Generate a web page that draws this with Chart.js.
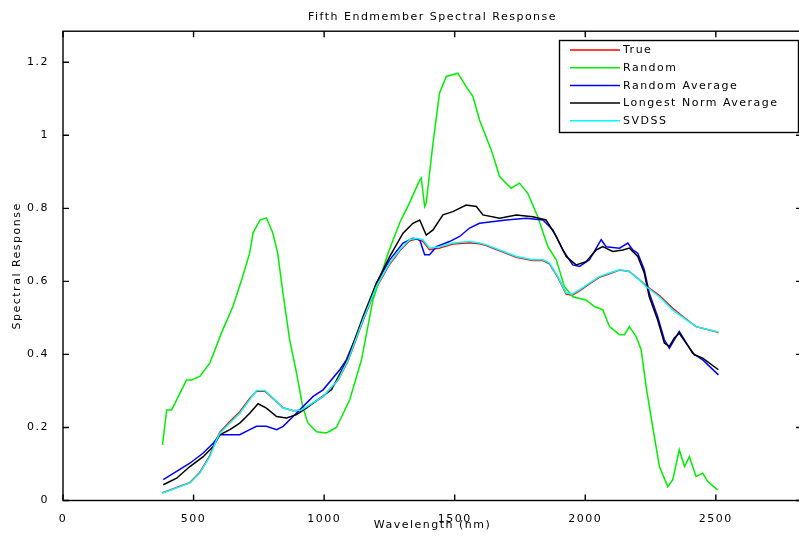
<!DOCTYPE html>
<html>
<head>
<meta charset="UTF-8">
<title>Fifth Endmember Spectral Response</title>
<script src="https://cdn.jsdelivr.net/npm/chart.js"></script>
<style>
  html, body { margin: 0; padding: 0; background: #fff; overflow: hidden; }
  #wrap { width: 799px; height: 536px; overflow: hidden; }
</style>
</head>
<body>
<div id="wrap"><canvas id="spectra" width="808" height="536"></canvas></div>
<script>
// wavelength (nm) / response pairs
const trueWl = [380,448,486,524,562,588,601,639,677,715,741,773,805,843,881,913,945,996,1053,1092,1149,1200,1251,1289,1327,1353,1378,1404,1442,1493,1557,1595,1621,1672,1736,1799,1838,1863,1895,1927,1950,1978,2016,2054,2093,2131,2169,2207,2233,2284,2335,2386,2424,2501,2510];
const trueVal = [0.021,0.039,0.049,0.077,0.123,0.169,0.187,0.216,0.243,0.279,0.299,0.299,0.279,0.254,0.246,0.247,0.261,0.284,0.329,0.383,0.492,0.583,0.647,0.683,0.711,0.716,0.71,0.687,0.691,0.702,0.706,0.703,0.698,0.684,0.666,0.657,0.657,0.648,0.611,0.565,0.562,0.574,0.593,0.611,0.621,0.631,0.627,0.605,0.588,0.561,0.526,0.497,0.476,0.462,0.459];

const randomWl = [381,397,416,473,492,524,562,607,650,684,715,728,754,779,803,822,842,868,894,918,937,971,1009,1047,1098,1143,1187,1245,1289,1327,1366,1372,1385,1391,1417,1442,1468,1512,1544,1570,1595,1640,1672,1716,1748,1780,1818,1857,1889,1920,1952,2003,2035,2067,2093,2131,2150,2169,2195,2214,2233,2258,2284,2316,2335,2360,2380,2399,2424,2450,2469,2507];
const randomVal = [0.152,0.248,0.248,0.33,0.33,0.34,0.376,0.459,0.53,0.604,0.678,0.733,0.768,0.774,0.733,0.678,0.57,0.44,0.35,0.257,0.213,0.188,0.185,0.2,0.276,0.385,0.549,0.677,0.76,0.815,0.877,0.883,0.805,0.815,0.979,1.116,1.161,1.17,1.133,1.106,1.042,0.96,0.887,0.855,0.869,0.841,0.777,0.695,0.659,0.586,0.558,0.549,0.531,0.522,0.476,0.454,0.454,0.476,0.449,0.413,0.312,0.203,0.093,0.038,0.057,0.139,0.093,0.12,0.066,0.075,0.052,0.029];

const randAvgWl = [384,435,486,537,575,601,639,677,715,741,779,818,843,881,919,958,996,1060,1085,1149,1200,1251,1302,1340,1366,1385,1404,1430,1480,1519,1557,1595,1697,1774,1838,1876,1914,1952,1978,2016,2061,2080,2131,2163,2182,2201,2226,2245,2277,2303,2322,2341,2360,2380,2411,2450,2510];
const randAvgVal = [0.057,0.08,0.102,0.13,0.157,0.18,0.18,0.18,0.194,0.203,0.203,0.194,0.203,0.23,0.257,0.285,0.303,0.358,0.385,0.495,0.595,0.659,0.705,0.718,0.714,0.673,0.673,0.695,0.709,0.723,0.746,0.759,0.768,0.773,0.768,0.741,0.686,0.645,0.641,0.659,0.714,0.695,0.691,0.705,0.686,0.677,0.632,0.568,0.504,0.44,0.417,0.44,0.463,0.44,0.403,0.385,0.344];

const longNormWl = [384,435,486,537,575,601,639,677,715,747,779,818,856,894,932,983,1028,1092,1149,1200,1251,1302,1340,1366,1391,1417,1455,1493,1544,1583,1608,1672,1736,1799,1850,1889,1927,1965,2003,2042,2067,2105,2144,2169,2201,2226,2245,2277,2303,2322,2341,2360,2386,2418,2450,2510];
const longNormVal = [0.043,0.061,0.093,0.12,0.148,0.18,0.194,0.212,0.239,0.265,0.253,0.23,0.226,0.235,0.253,0.28,0.303,0.39,0.504,0.595,0.668,0.732,0.759,0.768,0.727,0.741,0.782,0.791,0.809,0.805,0.782,0.773,0.782,0.777,0.768,0.723,0.668,0.645,0.654,0.686,0.695,0.682,0.686,0.691,0.668,0.623,0.558,0.495,0.431,0.422,0.445,0.458,0.431,0.399,0.39,0.358];

const svdssWl = [380,448,486,524,562,588,601,639,677,715,741,773,805,843,881,913,945,996,1053,1092,1149,1200,1251,1289,1327,1353,1378,1404,1442,1493,1557,1595,1621,1672,1736,1799,1838,1863,1895,1927,1950,1978,2016,2054,2093,2131,2169,2207,2233,2284,2335,2386,2424,2501,2510];
const svdssVal = [0.02,0.038,0.048,0.075,0.12,0.166,0.184,0.212,0.239,0.276,0.301,0.301,0.28,0.253,0.246,0.248,0.262,0.285,0.33,0.385,0.495,0.586,0.65,0.686,0.714,0.718,0.714,0.691,0.695,0.705,0.709,0.705,0.7,0.686,0.668,0.659,0.659,0.65,0.613,0.568,0.565,0.577,0.595,0.613,0.623,0.632,0.627,0.604,0.586,0.558,0.522,0.495,0.476,0.463,0.46];

const xTicks = [0, 500, 1000, 1500, 2000, 2500];
const yTicks = [0, 0.2, 0.4, 0.6, 0.8, 1, 1.2];

const FONT = 'DejaVu Sans';
const SPACING = '1.5px';

function pts(wl, val) {
  return wl.map((w, i) => ({ x: w, y: val[i] }));
}

function series(label, color, wl, val, order) {
  return {
    label: label,
    data: pts(wl, val),
    borderColor: color,
    backgroundColor: color,
    borderWidth: 1.5,
    pointRadius: 0,
    tension: 0,
    fill: false,
    order: order
  };
}

// matlab style letter spacing for all canvas text
const spacing = {
  id: 'spacing',
  beforeUpdate(chart) { chart.ctx.letterSpacing = SPACING; },
  beforeDraw(chart) { chart.ctx.letterSpacing = SPACING; }
};

// box around the axes with inward ticks on all four sides
const frameTicks = {
  id: 'frameTicks',
  afterDatasetsDraw(chart) {
    const { ctx, chartArea: a, scales: { x, y } } = chart;
    const len = 6;
    ctx.save();
    ctx.strokeStyle = '#000';
    ctx.lineWidth = 1.4;
    ctx.strokeRect(a.left, a.top, a.right - a.left, a.bottom - a.top);
    ctx.beginPath();
    x.ticks.forEach(t => {
      const px = x.getPixelForValue(t.value);
      ctx.moveTo(px, a.bottom); ctx.lineTo(px, a.bottom - len);
      ctx.moveTo(px, a.top); ctx.lineTo(px, a.top + len);
    });
    y.ticks.forEach(t => {
      const py = y.getPixelForValue(t.value);
      ctx.moveTo(a.left, py); ctx.lineTo(a.left + len, py);
      ctx.moveTo(a.right, py); ctx.lineTo(a.right - len, py);
    });
    ctx.stroke();
    ctx.restore();
  }
};

// legend box in the upper right corner, like matlab's
const boxLegend = {
  id: 'boxLegend',
  afterDraw(chart) {
    const ctx = chart.ctx;
    const sets = chart.data.datasets;
    const left = 559.5, top = 40.5, w = 239, h = 92;
    ctx.save();
    ctx.fillStyle = '#fff';
    ctx.fillRect(left, top, w, h);
    ctx.strokeStyle = '#000';
    ctx.lineWidth = 1.4;
    ctx.strokeRect(left, top, w, h);
    ctx.font = '11px "' + FONT + '"';
    ctx.letterSpacing = SPACING;
    ctx.textBaseline = 'middle';
    ctx.textAlign = 'left';
    sets.forEach((ds, i) => {
      const yy = 50 + i * 17.7;
      ctx.strokeStyle = ds.borderColor;
      ctx.lineWidth = 1.5;
      ctx.beginPath();
      ctx.moveTo(570, yy);
      ctx.lineTo(620, yy);
      ctx.stroke();
      ctx.fillStyle = '#000';
      ctx.fillText(ds.label, 623, yy + 0.5);
    });
    ctx.restore();
  }
};

new Chart(document.getElementById('spectra'), {
  type: 'line',
  data: {
    datasets: [
      series('True', '#ff0000', trueWl, trueVal, 4),
      series('Random', '#00ee00', randomWl, randomVal, 3),
      series('Random Average', '#0000ff', randAvgWl, randAvgVal, 2),
      series('Longest Norm Average', '#000000', longNormWl, longNormVal, 1),
      series('SVDSS', '#00ffff', svdssWl, svdssVal, 0)
    ]
  },
  options: {
    responsive: false,
    animation: false,
    events: [],
    layout: { padding: { left: 0, right: 6, top: 0, bottom: 0 } },
    plugins: {
      legend: { display: false },
      tooltip: { enabled: false },
      title: {
        display: true,
        fullSize: false,
        text: 'Fifth Endmember Spectral Response',
        color: '#000',
        font: { family: FONT, size: 11, weight: 'normal' },
        padding: { top: 11, bottom: 7 }
      }
    },
    scales: {
      x: {
        type: 'linear',
        min: 0,
        max: 2830,
        afterBuildTicks(s) { s.ticks = xTicks.map(v => ({ value: v })); },
        afterFit(s) { s.height = 35.5; },
        grid: { display: false },
        border: { display: false },
        ticks: {
          color: '#000',
          padding: 4,
          maxRotation: 0,
          font: { family: FONT, size: 11 },
          callback: v => String(v)
        },
        title: {
          display: true,
          text: 'Wavelength (nm)',
          color: '#000',
          font: { family: FONT, size: 11 },
          padding: { top: 0, bottom: 4 }
        }
      },
      y: {
        type: 'linear',
        min: 0,
        max: 1.285,
        afterBuildTicks(s) { s.ticks = yTicks.map(v => ({ value: v })); },
        afterFit(s) { s.width = 63; },
        grid: { display: false },
        border: { display: false },
        ticks: {
          color: '#000',
          padding: 6,
          font: { family: FONT, size: 11 },
          callback: v => String(+v.toFixed(1))
        },
        title: {
          display: true,
          text: 'Spectral Response',
          color: '#000',
          font: { family: FONT, size: 11 },
          padding: { top: 11, bottom: 0 }
        }
      }
    }
  },
  plugins: [spacing, frameTicks, boxLegend]
});
</script>
</body>
</html>
